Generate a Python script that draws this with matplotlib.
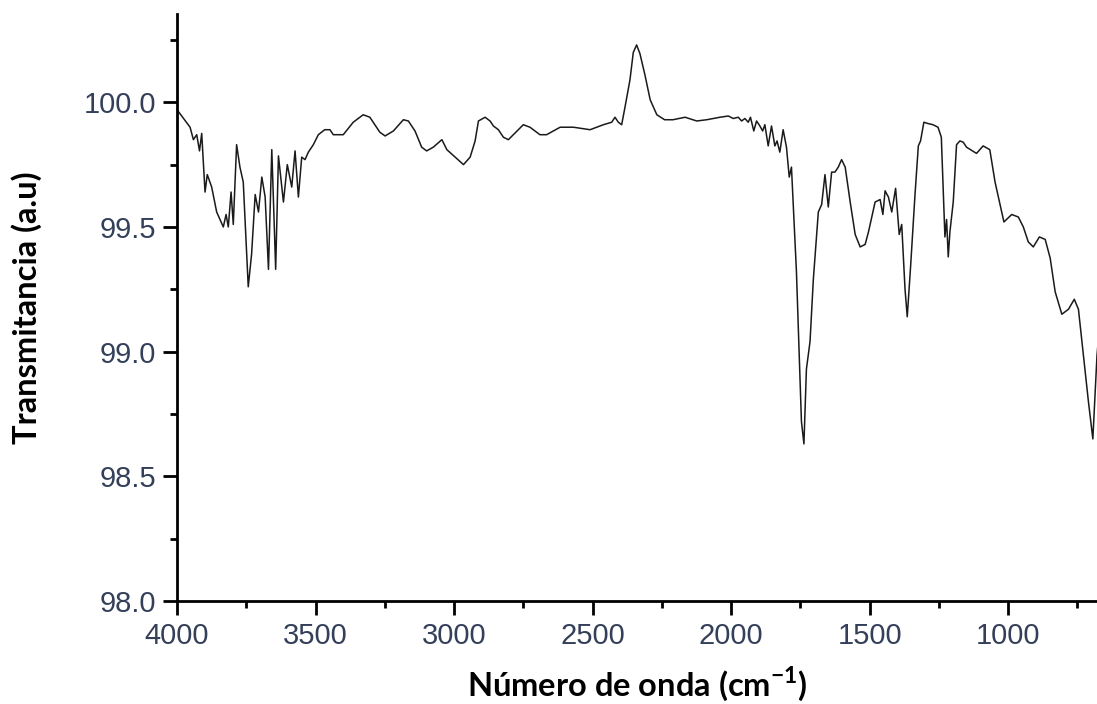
import numpy as np
import matplotlib
matplotlib.use("Agg")
from matplotlib import pyplot as plt
from matplotlib.ticker import MultipleLocator, FormatStrFormatter

# wavenumber (cm-1) and transmittance
wavenumber = [
    4000, 3953, 3941, 3929, 3919, 3911, 3899, 3891, 3875, 3857, 3833, 3823,
    3815, 3805, 3797, 3785, 3773, 3761, 3743, 3731, 3718, 3706, 3694, 3682,
    3670, 3658, 3644, 3634, 3616, 3602, 3586, 3574, 3562, 3550, 3538, 3526,
    3508, 3490, 3467, 3448, 3436, 3400, 3364, 3328, 3304, 3268, 3249, 3219,
    3183, 3165, 3141, 3117, 3099, 3075, 3044, 3026, 2996, 2966, 2942, 2924,
    2912, 2888, 2870, 2858, 2840, 2822, 2804, 2786, 2750, 2726, 2690, 2666,
    2617, 2569, 2509, 2461, 2431, 2419, 2407, 2395, 2383, 2365, 2353, 2341,
    2329, 2311, 2292, 2268, 2240, 2210, 2166, 2124, 2088, 2040, 2010, 1992,
    1974, 1962, 1950, 1938, 1930, 1918, 1908, 1896, 1886, 1878, 1866, 1854,
    1842, 1834, 1824, 1812, 1800, 1790, 1782, 1764, 1746, 1737, 1728, 1715,
    1703, 1685, 1673, 1661, 1649, 1637, 1625, 1613, 1601, 1588, 1570, 1552,
    1534, 1516, 1504, 1492, 1480, 1462, 1452, 1444, 1432, 1420, 1406, 1393,
    1384, 1372, 1364, 1352, 1336, 1324, 1316, 1304, 1290, 1271, 1253, 1241,
    1228, 1222, 1216, 1210, 1198, 1186, 1174, 1162, 1150, 1114, 1090, 1066,
    1047, 1029, 1015, 987, 963, 945, 927, 909, 887, 866, 848, 830, 806, 782,
    761, 746, 728, 710, 694, 679, 670,
]
transmittance = [
    99.97, 99.90, 99.85, 99.87, 99.805, 99.875, 99.64, 99.71, 99.66, 99.56,
    99.50, 99.55, 99.50, 99.64, 99.51, 99.83, 99.74, 99.68, 99.26, 99.39,
    99.63, 99.56, 99.70, 99.62, 99.33, 99.81, 99.33, 99.785, 99.60, 99.75,
    99.66, 99.805, 99.62, 99.78, 99.77, 99.80, 99.83, 99.87, 99.89, 99.89,
    99.87, 99.87, 99.92, 99.95, 99.94, 99.88, 99.865, 99.885, 99.93, 99.925,
    99.885, 99.82, 99.805, 99.82, 99.85, 99.81, 99.78, 99.75, 99.78, 99.845,
    99.925, 99.94, 99.925, 99.905, 99.89, 99.86, 99.85, 99.87, 99.91, 99.90,
    99.87, 99.87, 99.90, 99.90, 99.89, 99.91, 99.92, 99.94, 99.92, 99.91,
    99.98, 100.09, 100.20, 100.23, 100.195, 100.11, 100.01, 99.95, 99.93,
    99.93, 99.94, 99.925, 99.93, 99.94, 99.945, 99.935, 99.94, 99.925, 99.935,
    99.92, 99.94, 99.885, 99.925, 99.905, 99.885, 99.91, 99.825, 99.905,
    99.825, 99.845, 99.80, 99.89, 99.82, 99.70, 99.74, 99.32, 98.72, 98.63,
    98.93, 99.04, 99.29, 99.56, 99.59, 99.71, 99.58, 99.72, 99.72, 99.74,
    99.77, 99.74, 99.60, 99.47, 99.42, 99.43, 99.48, 99.54, 99.60, 99.61,
    99.55, 99.645, 99.62, 99.56, 99.655, 99.47, 99.51, 99.25, 99.14, 99.34,
    99.63, 99.825, 99.845, 99.92, 99.915, 99.91, 99.90, 99.86, 99.46, 99.53,
    99.38, 99.48, 99.60, 99.83, 99.845, 99.84, 99.82, 99.795, 99.825, 99.81,
    99.68, 99.59, 99.52, 99.55, 99.54, 99.50, 99.44, 99.42, 99.46, 99.45,
    99.375, 99.24, 99.15, 99.17, 99.21, 99.17, 98.985, 98.80, 98.65, 98.985,
    99.10,
]

plt.rcParams['mathtext.fontset'] = 'custom'
plt.rcParams['mathtext.bf'] = 'Lato:bold'
plt.rcParams['mathtext.rm'] = 'Lato:bold'

fig = plt.figure(figsize=(10.97, 7.04), dpi=100)
ax = fig.add_axes([0.1614, 0.1463, 0.8386, 0.8338])

ax.plot(wavenumber, transmittance, color='#1a1a1a', lw=1.1)

ax.set_xlim(4000, 679)
ax.set_ylim(98.0, 100.354)

for side in ('top', 'right'):
    ax.spines[side].set_visible(False)
for side in ('left', 'bottom'):
    ax.spines[side].set_linewidth(2.0)

ax.xaxis.set_major_locator(MultipleLocator(500))
ax.xaxis.set_minor_locator(MultipleLocator(250))
ax.yaxis.set_major_locator(MultipleLocator(0.5))
ax.yaxis.set_minor_locator(MultipleLocator(0.25))
ax.yaxis.set_major_formatter(FormatStrFormatter('%.1f'))

ax.tick_params(which='major', direction='out', length=10, width=2.0,
               labelsize=21, labelcolor='#34405a', pad=5)
ax.tick_params(which='minor', direction='out', length=5, width=2.0)
for lab in ax.get_xticklabels() + ax.get_yticklabels():
    lab.set_family('Liberation Sans')

ax.set_xlabel(r'Número de onda (cm$^{\mathbf{-1}}$)', family='Lato',
              fontweight='bold', fontsize=23.5)
ax.set_ylabel('Transmitancia (a.u)', family='Lato', fontweight='bold',
              fontsize=23.5)
ax.xaxis.set_label_coords(0.5, -0.108)
ax.yaxis.set_label_coords(-0.147, 0.5)

fig.savefig('out.png', dpi=100)
